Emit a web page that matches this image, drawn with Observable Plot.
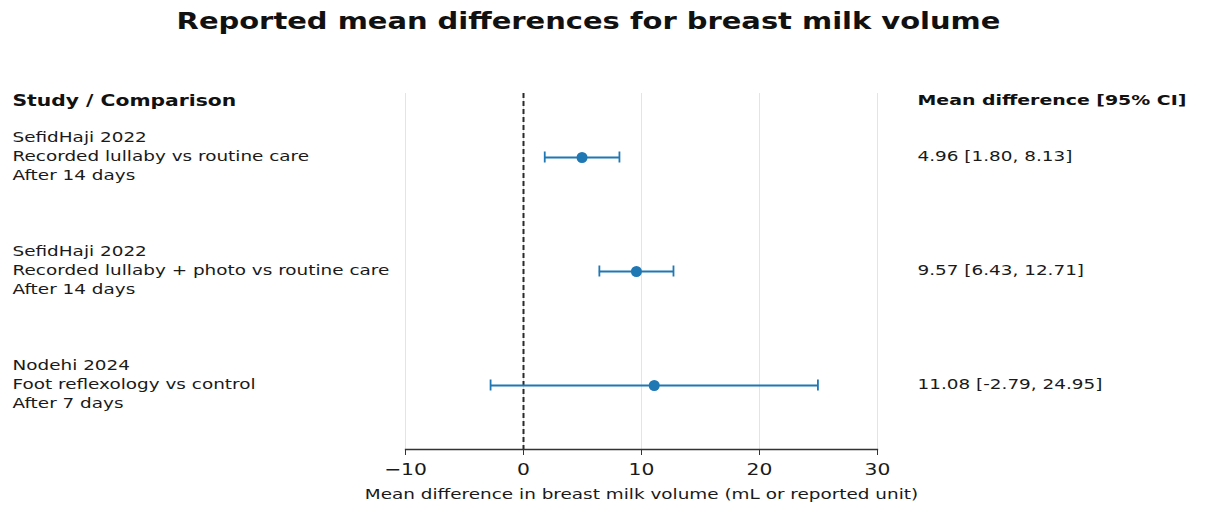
<!DOCTYPE html>
<html><head><meta charset="utf-8">
<script src="https://cdn.jsdelivr.net/npm/d3@7"></script>
<script src="https://cdn.jsdelivr.net/npm/@observablehq/plot@0.6"></script>
<style>body{margin:0;background:#fff}</style>
</head><body><div id="chart"></div>
<script>
const titleText = "Reported mean differences for breast milk volume";
const leftHeader = "Study / Comparison";
const rightHeader = "Mean difference [95% CI]";
const xLabel = "Mean difference in breast milk volume (mL or reported unit)";
const studies = ["SefidHaji 2022", "SefidHaji 2022", "Nodehi 2024"];
const comparisons = ["Recorded lullaby vs routine care", "Recorded lullaby + photo vs routine care", "Foot reflexology vs control"];
const timepoints = ["After 14 days", "After 14 days", "After 7 days"];
const means = [4.96, 9.57, 11.08];
const lower = [1.80, 6.43, -2.79];
const upper = [8.13, 12.71, 24.95];
const xTicks = [-10, 0, 10, 20, 30];

const rows = studies.map((s, i) => ({
  id: String(i),
  label: `${s}\n${comparisons[i]}\n${timepoints[i]}`,
  mean: means[i], lo: lower[i], hi: upper[i],
  ci: `${means[i].toFixed(2)} [${lower[i].toFixed(2)}, ${upper[i].toFixed(2)}]`
}));

const blue = "#1f77b4";
const ink = "#1a1a1a";

const chart = Plot.plot({
  width: 1219, height: 506,
  marginLeft: 405, marginRight: 342, marginTop: 93, marginBottom: 57,
  style: {fontFamily: "DejaVu Sans", fontSize: "14.5px", color: ink, background: "#fff"},
  x: {domain: [-10, 30]},
  y: {type: "band", domain: rows.map(d => d.id), paddingInner: 0, paddingOuter: 0.048, axis: null},
  marks: [
    Plot.gridX(xTicks, {stroke: "#e4e4e4", strokeOpacity: 1, strokeWidth: 1}),
    Plot.ruleX([0], {stroke: "#2a2a2a", strokeDasharray: "5,3", strokeWidth: 2}),
    Plot.ruleY(rows, {y: "id", x1: "lo", x2: "hi", stroke: blue, strokeWidth: 1.8}),
    Plot.tickX(rows, {x: "lo", y: "id", insetTop: 51.5, insetBottom: 51.5, stroke: blue, strokeWidth: 1.8}),
    Plot.tickX(rows, {x: "hi", y: "id", insetTop: 51.5, insetBottom: 51.5, stroke: blue, strokeWidth: 1.8}),
    Plot.dot(rows, {x: "mean", y: "id", r: 5.5, fill: blue}),
    Plot.text(rows, {y: "id", text: "label", frameAnchor: "left", dx: -393, dy: -2.5, textAnchor: "start", lineHeight: 1.3, fontSize: 14.5, fill: ink}),
    Plot.text(rows, {y: "id", text: "ci", frameAnchor: "right", dx: 40, dy: -1, textAnchor: "start", fontSize: 14.5, fill: ink}),
    Plot.text([leftHeader], {frameAnchor: "top-left", dx: -393, dy: 7, textAnchor: "start", lineAnchor: "middle", fontWeight: "bold", fontSize: 16, fill: "#111"}),
    Plot.text([rightHeader], {frameAnchor: "top-right", dx: 40, dy: 7, textAnchor: "start", lineAnchor: "middle", fontWeight: "bold", fontSize: 14.9, fill: "#111"}),
    Plot.text([titleText], {frameAnchor: "top", dx: -53, dy: -72, lineAnchor: "middle", fontWeight: "bold", fontSize: 22.8, fill: "#111"}),
    Plot.text([xLabel], {frameAnchor: "bottom", dy: 45, lineAnchor: "middle", fontSize: 14.5, fill: ink}),
    Plot.frame({anchor: "bottom", stroke: "#333", strokeWidth: 1.3}),
    Plot.axisX({ticks: xTicks, tickSize: 6, tickPadding: 8, fontSize: 16, label: null, stroke: "#333", fill: ink})
  ]
});

// The reference image is horizontally stretched; stretch glyphs about their anchor.
const sx = 1.27;
chart.querySelectorAll("text").forEach(t => {
  const tr = t.getAttribute("transform");
  if (tr && tr.includes("translate")) {
    t.setAttribute("transform", tr + ` scale(${sx},1)`);
  } else {
    const x = +(t.getAttribute("x") || 0), y = +(t.getAttribute("y") || 0);
    t.removeAttribute("x"); t.removeAttribute("y");
    t.setAttribute("transform", `translate(${x},${y}) ${tr || ""} scale(${sx},1)`);
  }
});

document.getElementById("chart").appendChild(chart);
</script>
</body></html>
